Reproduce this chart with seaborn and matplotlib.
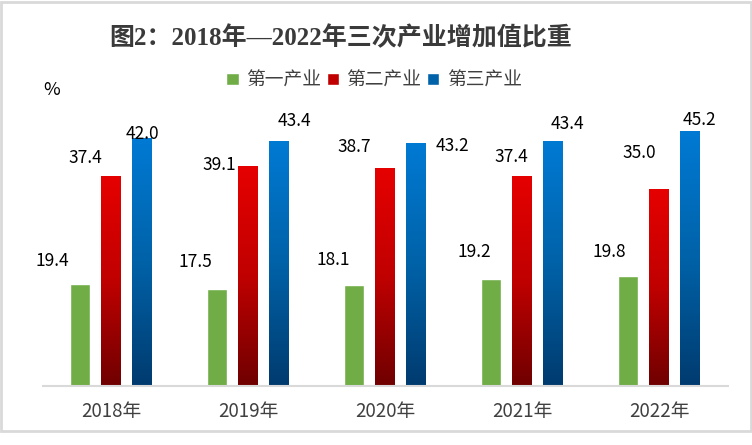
import matplotlib
matplotlib.use('Agg')
import matplotlib.pyplot as plt
import numpy as np
import pandas as pd
import seaborn as sns
from matplotlib.colors import LinearSegmentedColormap
from matplotlib.patches import Patch, Rectangle

sns.set_theme(style="white")
plt.rcParams['font.family'] = ['Noto Sans CJK SC', 'DejaVu Sans']

# %%
# Chart data
years = ['2018年', '2019年', '2020年', '2021年', '2022年']
industries = ['第一产业', '第二产业', '第三产业']
# bar heights as drawn in the chart (%)
primary = [18.2, 17.3, 18.0, 19.1, 19.6]
secondary = [37.3, 39.1, 38.6, 37.3, 35.0]
tertiary = [44.1, 43.4, 43.2, 43.4, 45.2]
# data labels as printed on the chart
primary_labels = ['19.4', '17.5', '18.1', '19.2', '19.8']
secondary_labels = ['37.4', '39.1', '38.7', '37.4', '35.0']
tertiary_labels = ['42.0', '43.4', '43.2', '43.4', '45.2']

# label offsets from the top centre of each bar, in pixels (hand placed in the original)
primary_offsets = [(-28, 24), (-22, 28), (-21, 26), (-17, 28), (-19, 25)]
secondary_offsets = [(-26, 20), (-29, 3), (-31, 23), (-11, 21), (-20, 38)]
tertiary_offsets = [(0, 6), (15, 22), (36, -1), (14, 19), (9, 13)]

df = pd.DataFrame({
    '年份': years * 3,
    '产业': np.repeat(industries, len(years)),
    '比重': primary + secondary + tertiary,
})

# %%
# Colours
green = '#70ad47'
red_cmap = LinearSegmentedColormap.from_list('red', ['#700000', '#c00000', '#e60000'])
blue_cmap = LinearSegmentedColormap.from_list('blue', ['#003b6f', '#0062a8', '#007ad4'])

fig = plt.figure(figsize=(7.52, 4.45), dpi=100)
ax = fig.add_axes([42.5 / 752, (445 - 385.5) / 445, 685 / 752, 280 / 445])

sns.barplot(data=df, x='年份', y='比重', hue='产业',
            palette=[green, '#c00000', '#0062a8'], saturation=1,
            width=0.679, gap=0.355, errorbar=None, legend=False, ax=ax)

# Gradient fill for the second and third industry bars
grad = np.linspace(0, 1, 256).reshape(-1, 1)
for bars, cmap in zip(ax.containers[1:], [red_cmap, blue_cmap]):
    for bar in bars:
        x0, w, h = bar.get_x(), bar.get_width(), bar.get_height()
        ax.imshow(grad, cmap=cmap, origin='lower', aspect='auto',
                  extent=[x0, x0 + w, 0, h], zorder=bar.get_zorder())
        bar.set_visible(False)

# Data labels
all_labels = [primary_labels, secondary_labels, tertiary_labels]
all_offsets = [primary_offsets, secondary_offsets, tertiary_offsets]
for bars, labels, offsets in zip(ax.containers, all_labels, all_offsets):
    for bar, lab, (dx, dy) in zip(bars, labels, offsets):
        ax.annotate(lab, (bar.get_x() + bar.get_width() / 2, bar.get_height()),
                    xytext=(dx, dy - 6), textcoords='offset pixels',
                    ha='center', va='baseline', fontsize=12.5, color='black')

ax.set_xlim(-0.5, 4.5)
ax.set_ylim(0, 50)
ax.set_yticks([])
ax.set_xlabel('')
ax.set_ylabel('')
sns.despine(ax=ax, left=True)
ax.spines['bottom'].set_color('#d9d9d9')
ax.spines['bottom'].set_linewidth(1.5)
ax.tick_params(axis='x', length=0, pad=11, labelsize=13.5, labelcolor='#404040')

# Title, unit and legend
fig.text(341 / 752, 1 - 38 / 445, '图2：2018年—2022年三次产业增加值比重',
         ha='center', va='center', fontsize=18, fontweight='bold',
         family=['Liberation Serif', 'Noto Sans CJK SC'], color='#3a3a3a')
fig.text(52 / 752, 1 - 90 / 445, '%', ha='center', va='center', fontsize=13, color='black')

handles = [Patch(facecolor=green), Patch(facecolor='#c00000'), Patch(facecolor='#0062a8')]
fig.legend(handles, industries, loc='center', bbox_to_anchor=(374 / 752, 1 - 80 / 445),
           ncol=3, frameon=False, fontsize=13.5, handlelength=0.65, handleheight=0.65,
           handletextpad=0.4, columnspacing=0.3, labelcolor='#404040')

# Light grey frame around the chart
fig.add_artist(Rectangle((1.5 / 752, 14 / 445), 749 / 752, 429.5 / 445,
                         transform=fig.transFigure, fill=False,
                         edgecolor='#d9d9d9', linewidth=2))

fig.savefig('out.png', dpi=100)
